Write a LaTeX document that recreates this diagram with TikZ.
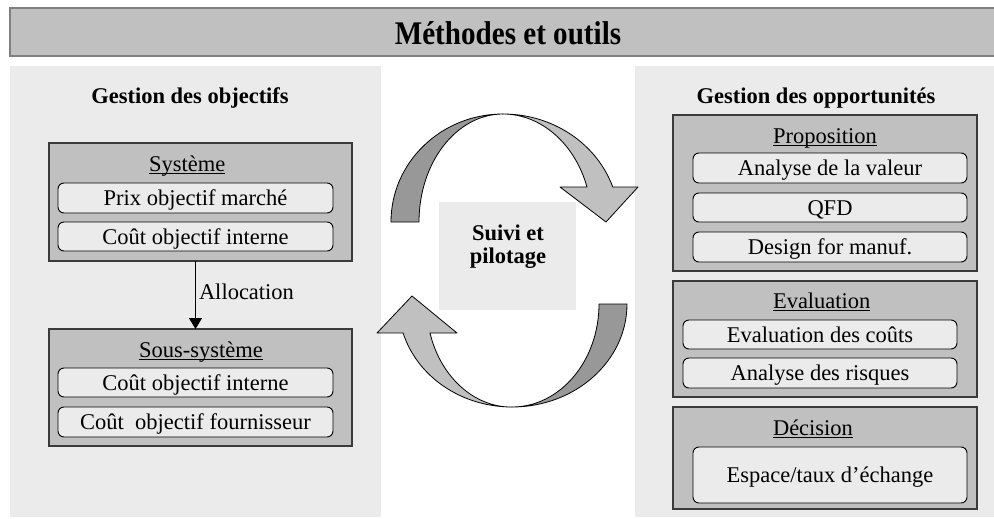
\documentclass[tikz,border=0pt]{standalone}
\usepackage{fontspec}
\setmainfont{Liberation Serif}
\usetikzlibrary{arrows.meta,calc}

\definecolor{panelgray}{HTML}{EBEBEB}
\definecolor{boxgray}{HTML}{C0C0C0}
\definecolor{darkribbon}{HTML}{989898}
\definecolor{framegray}{HTML}{3A3A3A}
\definecolor{titleframe}{HTML}{808080}

% underline sitting at a fixed distance under the baseline
\newcommand\headline[1]{\setbox0\hbox{#1}\rlap{\rule[-3pt]{\wd0}{0.9pt}}\box0}

\begin{document}
\begin{tikzpicture}[x=1pt,y=1pt,
  every node/.style={inner sep=0pt, outer sep=0pt},
  txt/.style={font=\fontsize{22.5}{26}\selectfont},
  boldtxt/.style={font=\fontsize{22.5}{23}\selectfont\bfseries},
  panel/.style={fill=panelgray, draw=none, anchor=north west},
  group/.style={fill=boxgray, draw=framegray, line width=1.2pt, anchor=north west},
  grouptitle/.style={txt, anchor=base west},
  item/.style={fill=panelgray, draw=black, line width=0.9pt, rounded corners=6pt,
               txt, text height=15pt, text depth=0pt, align=center},
  ribbon/.style={draw=black, line width=0.8pt, line join=round},
]
\useasboundingbox (0,0) rectangle (994,-519);

% title bar
\node[fill=boxgray, draw=titleframe, line width=2pt, anchor=north west,
      minimum width=995, minimum height=48] (titlebar) at (10,-8) {};
\node[font=\fontsize{30}{34}\selectfont\bfseries, anchor=base] (titletext) at (508,-45)
  {\scalebox{0.97}[1.1]{Méthodes et outils}};

% background panels
\node[panel, minimum width=371, minimum height=451] (panelL) at (10,-66) {};
\node[panel, minimum width=360, minimum height=451] (panelR) at (635,-66) {};

% ---------- objectives ----------
\node[boldtxt, anchor=base] (hdrL) at (190,-103) {Gestion des objectifs};

\node[group, minimum width=303, minimum height=118] (sys) at (49,-143) {};
\node[grouptitle] (sysT) at (149,-171) {\headline{Système}};
\node[item, minimum width=275, minimum height=30] (sysA) at (195.5,-198) {Prix objectif marché};
\node[item, minimum width=275, minimum height=29] (sysB) at (195.5,-236.5) {Coût objectif interne};

\node[group, minimum width=303, minimum height=117] (sub) at (49,-329) {};
\node[grouptitle] (subT) at (139,-357) {\headline{Sous-système}};
\node[item, minimum width=275, minimum height=29] (subA) at (195.5,-382.5) {Coût objectif interne};
\node[item, minimum width=275, minimum height=30] (subB) at (195.5,-422) {Coût\ \ objectif fournisseur};

\draw[line width=1pt, -{Triangle[width=13pt,length=11pt]}]
  (sysA.center |- sys.south) -- (sysA.center |- sub.north);
\node[txt, anchor=base west] (alloc) at (199,-299) {Allocation};

% ---------- opportunities ----------
\node[boldtxt, anchor=base] (hdrR) at (816,-103) {Gestion des opportunités};

\node[group, minimum width=304, minimum height=156] (prop) at (673,-115) {};
\node[grouptitle] (propT) at (773,-143) {\headline{Proposition}};
\node[item, minimum width=274, minimum height=30] (propA) at (830,-168) {Analyse de la valeur};
\node[item, minimum width=274, minimum height=29] (propB) at (830,-207.5) {QFD};
\node[item, minimum width=274, minimum height=30] (propC) at (830,-247) {Design for manuf.};

\node[group, minimum width=304, minimum height=116] (eval) at (673,-281) {};
\node[grouptitle] (evalT) at (773,-308) {\headline{Evaluation}};
\node[item, minimum width=274, minimum height=29] (evalA) at (820,-334.5) {Evaluation des coûts};
\node[item, minimum width=274, minimum height=30] (evalB) at (820,-373) {Analyse des risques};

\node[group, minimum width=304, minimum height=102] (deci) at (673,-407) {};
\node[grouptitle] (deciT) at (773,-435) {\headline{Décision}};
\node[item, minimum width=274, minimum height=56] (deciA) at (830,-475) {Espace/taux d’échange};

% ---------- follow-up loop ----------
\node[fill=panelgray, anchor=north west, minimum width=137, minimum height=108] (suivi) at (439,-202) {};
\node[boldtxt, align=center] (suiviT) at (508,-247) {Suivi et\\pilotage};

% upper ribbon arrow
\draw[ribbon, fill=darkribbon] (391,-222)
  arc[start angle=180, end angle=90, x radius=112, y radius=108]
  arc[start angle=90, end angle=180, x radius=84, y radius=108] -- cycle;
\draw[ribbon, fill=boxgray] (503,-114)
  arc[start angle=90, end angle=18.9, x radius=116, y radius=108]
  -- (638,-187) -- (606,-222) -- (560,-187) -- (587,-187)
  arc[start angle=18.9, end angle=90, x radius=89, y radius=108] -- cycle;

% lower ribbon arrow
\draw[ribbon, fill=darkribbon] (627,-304)
  arc[start angle=0, end angle=-90, x radius=115, y radius=103]
  arc[start angle=-90, end angle=0, x radius=87, y radius=103] -- cycle;
\draw[ribbon, fill=boxgray] (512,-407)
  arc[start angle=270, end angle=196.3, x radius=113.5, y radius=103]
  -- (377,-333) -- (412,-296) -- (457,-333) -- (430,-333)
  arc[start angle=196.3, end angle=270, x radius=85, y radius=103] -- cycle;

\end{tikzpicture}
\end{document}
